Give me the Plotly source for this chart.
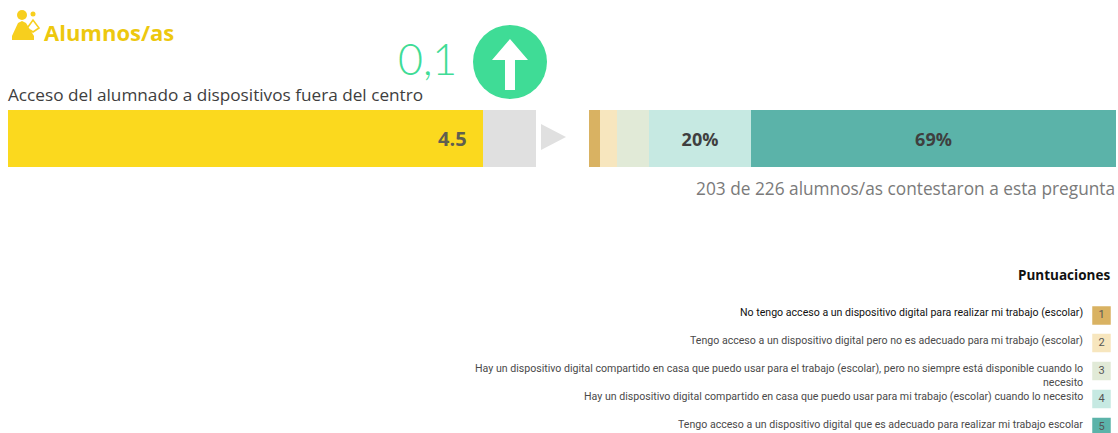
import plotly.graph_objects as go

W, H = 1118, 433
FONT = "Open Sans"
LEGEND_FONT = "Roboto"

score = [4.5]
score_rest = [0.5]
score_max = 5
shares = [2.1, 3.2, 6.1, 19.4, 69.2]
share_labels = ["", "", "", "20%", "69%"]
share_colors = ["#D9B262", "#F7E6BE", "#E1EAD7", "#C6E9E2", "#5BB3A9"]
levels = [1, 2, 3, 4, 5]
level_texts = [
    "No tengo acceso a un dispositivo digital para realizar mi trabajo (escolar)",
    "Tengo acceso a un dispositivo digital pero no es adecuado para mi trabajo (escolar)",
    "Hay un dispositivo digital compartido en casa que puedo usar para el trabajo (escolar), pero no siempre está disponible cuando lo<br>necesito",
    "Hay un dispositivo digital compartido en casa que puedo usar para mi trabajo (escolar) cuando lo necesito",
    "Tengo acceso a un dispositivo digital que es adecuado para realizar mi trabajo escolar",
]
level_y = [315.5, 343, 371, 399, 427]
level_text_y = [312, 340, 375, 396, 424]


def px(x):
    return x / W


def py(y):
    return 1 - y / H


def path(points):
    return "M " + " L ".join(f"{px(x):.5f},{py(y):.5f}" for x, y in points) + " Z"


def circle(cx, cy, r, color):
    return dict(type="circle", xref="paper", yref="paper",
                x0=px(cx - r), x1=px(cx + r), y0=py(cy + r), y1=py(cy - r),
                fillcolor=color, line_width=0, layer="above")


def poly(points, color):
    return dict(type="path", xref="paper", yref="paper", path=path(points),
                fillcolor=color, line_width=0, layer="above")


def stroke(points, color, width):
    d = "M " + " L ".join(f"{px(x):.5f},{py(y):.5f}" for x, y in points)
    return dict(type="path", xref="paper", yref="paper", path=d,
                line=dict(color=color, width=width), layer="above")


fig = go.Figure()

# Score bar
fig.add_bar(x=score, y=[0], orientation="h", marker_color="#FBD91E", marker_line_width=0,
            xaxis="x", yaxis="y", hoverinfo="skip")
fig.add_bar(x=score_rest, y=[0], orientation="h", marker_color="#E0E0E0", marker_line_width=0,
            xaxis="x", yaxis="y", hoverinfo="skip")

# Share bar
for v, lab, col in zip(shares, share_labels, share_colors):
    fig.add_bar(x=[v], y=[0], orientation="h", marker_color=col, marker_line_width=0,
                text=[lab], textposition="inside", insidetextanchor="middle",
                textfont=dict(family=FONT, size=18, color="#3F3F3F", weight="bold"),
                xaxis="x2", yaxis="y2", hoverinfo="skip")

# Legend swatches
fig.add_scatter(x=[0] * 5, y=level_y, mode="markers+text", text=[str(n) for n in levels],
                textposition="middle center",
                textfont=dict(family=LEGEND_FONT, size=11, color="#555555"),
                marker=dict(symbol="square", size=18.5, color=share_colors, line_width=0),
                xaxis="x3", yaxis="y3", hoverinfo="skip", cliponaxis=False)

fig.update_layout(
    width=W, height=H, margin=dict(l=0, r=0, t=0, b=0),
    paper_bgcolor="white", plot_bgcolor="white", showlegend=False,
    barmode="stack", bargap=0, font=dict(family=FONT),
    xaxis=dict(domain=[px(8), px(536)], range=[0, score_max], visible=False),
    yaxis=dict(domain=[py(167), py(110)], range=[-0.5, 0.5], visible=False),
    xaxis2=dict(domain=[px(589), px(1116)], range=[0, 100], visible=False, anchor="y2"),
    yaxis2=dict(domain=[py(167), py(110)], range=[-0.5, 0.5], visible=False, anchor="x2"),
    xaxis3=dict(domain=[px(1092.5), px(1110.5)], range=[-1, 1], visible=False, anchor="y3"),
    yaxis3=dict(domain=[0, py(300)], range=[433, 300], visible=False, anchor="x3"),
)

fig.add_annotation(xref="x", yref="y", x=score[0], y=0, xshift=-14, text=str(score[0]),
                   showarrow=False, xanchor="right", yanchor="middle",
                   font=dict(family=FONT, size=20, color="#5F5F50", weight="bold"))


def note(x, y, text, size, color, anchor="left", family=FONT, weight=None):
    fig.add_annotation(xref="paper", yref="paper", x=px(x), y=py(y), text=text,
                       showarrow=False, xanchor=anchor, yanchor="middle", align=anchor,
                       font=dict(family=family, size=size, color=color, weight=weight))


note(42, 32, "Alumnos/as", 22, "#EDC80E", weight="bold")
note(396, 59, "0,1", 43, "#3FDC96", family="Lato", weight=300)
note(6, 94, "Acceso del alumnado a dispositivos fuera del centro", 17.2, "#3E3E3E")
note(1117, 188, "203 de 226 alumnos/as contestaron a esta pregunta", 17.3, "#7A7A7A", anchor="right")
note(1112, 275, "Puntuaciones", 13.5, "#111111", anchor="right", weight="bold")
for i, (t, y) in enumerate(zip(level_texts, level_text_y)):
    note(1085, y, t, 10.6, "#111111" if i == 0 else "#4A4A4A", anchor="right", family=LEGEND_FONT)

ICON = "#F7CF1E"
fig.update_layout(shapes=[
    circle(510, 62, 37, "#3FDC96"),
    poly([(510, 39), (528, 60), (515, 60), (515, 90), (505, 90), (505, 60), (492, 60)], "white"),
    poly([(541, 124), (566, 137), (541, 150)], "#E0E0E0"),
    circle(22, 15, 5, ICON),
    poly([(22, 21), (26, 23), (34, 36), (34, 40), (12, 40), (12, 36), (18, 23)], ICON),
    circle(33, 14, 2.5, ICON),
    stroke([(28, 27), (33, 20), (39, 28), (33, 32), (30, 30)], ICON, 1.6),
])

fig.write_html("out.html", config=dict(displayModeBar=False),
               post_script="document.body.style.margin='0';document.documentElement.style.overflow='hidden';")
